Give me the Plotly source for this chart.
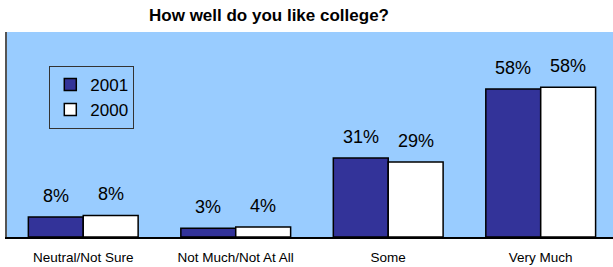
import plotly.graph_objects as go

categories = ["Neutral/Not Sure", "Not Much/Not At All", "Some", "Very Much"]
values_2001 = [7.8, 3.4, 30.8, 57.8]
values_2000 = [8.4, 3.9, 29.3, 58.4]
series_names = ["2001", "2000"]

FONT = "Liberation Sans, Arial, sans-serif"
navy = "#333399"
bg = "#99CCFF"

fig = go.Figure()
fig.add_trace(go.Bar(
    name=series_names[0], x=categories, y=values_2001,
    marker=dict(color=navy, line=dict(color="black", width=1.5)),
))
fig.add_trace(go.Bar(
    name=series_names[1], x=categories, y=values_2000,
    marker=dict(color="white", line=dict(color="black", width=1.5)),
))

for vals, shift in ((values_2001, -27.5), (values_2000, 27.5)):
    for c, v in zip(categories, vals):
        fig.add_annotation(
            x=c, y=v, xref="x", yref="y", text=f"{v:.0f}%",
            showarrow=False, xshift=shift, yshift=9, yanchor="bottom",
            font=dict(family=FONT, size=18, color="black"),
        )

fig.update_layout(
    width=620, height=267,
    margin=dict(l=7, r=0, t=32, b=30),
    paper_bgcolor="white", plot_bgcolor=bg,
    barmode="group", bargap=0.28, bargroupgap=0,
    title=dict(
        text="<b>How well do you like college?</b>",
        x=269 / 620, xref="container", xanchor="center",
        y=1 - 15 / 267, yref="container", yanchor="middle",
        font=dict(family=FONT, size=17, color="black"),
    ),
    legend=dict(
        x=0.069, y=0.835, xanchor="left", yanchor="top",
        bgcolor=bg, bordercolor="#333333", borderwidth=1,
        font=dict(family=FONT, size=17, color="black"),
        tracegroupgap=0,
    ),
    showlegend=True,
    font=dict(family=FONT, color="black"),
)
fig.update_xaxes(
    range=[-0.5, 3.52], showgrid=False, ticks="",
    showline=True, linecolor="black", linewidth=1.5,
    tickfont=dict(family=FONT, size=13.5, color="black"),
    ticklabelstandoff=7,
    fixedrange=True,
)
fig.update_yaxes(
    range=[0, 80], showgrid=False, showticklabels=False, ticks="",
    showline=True, linecolor="#555555", linewidth=1.5, zeroline=False,
    fixedrange=True,
)

fig.write_html(
    "out.html",
    config={"displayModeBar": False},
    post_script=(
        "document.body.style.margin='0';document.body.style.overflow='hidden';"
        "document.documentElement.style.overflow='hidden';"
    ),
)
